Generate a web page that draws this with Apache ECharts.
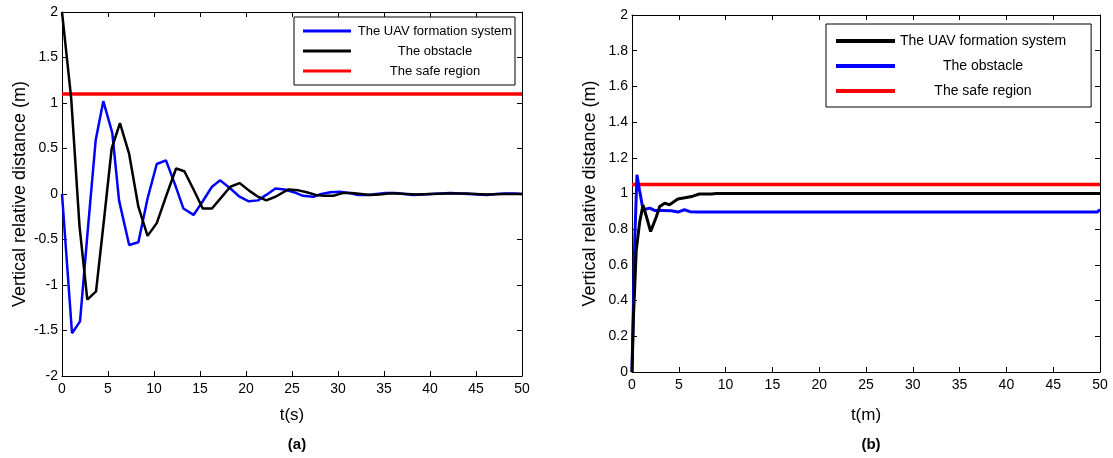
<!DOCTYPE html>
<html>
<head>
<meta charset="utf-8">
<script src="https://cdn.jsdelivr.net/npm/echarts@6/dist/echarts.min.js"></script>
<style>
  html, body { margin: 0; padding: 0; background: #fff; }
  #chart { width: 1113px; height: 458px; }
</style>
</head>
<body>
<div id="chart"></div>
<script>
// (a) time response, [t, value]
const uavA = [[0,0],[1.09,-1.53],[1.96,-1.40],[2.8,-0.4],[3.66,0.59],[4.49,1.02],[5.47,0.67],[6.2,-0.07],[7.3,-0.56],[8.3,-0.53],
  [9.3,-0.05],[10.3,0.33],[11.3,0.37],[12.3,0.1],[13.2,-0.16],[14.3,-0.23],[15.3,-0.08],[16.3,0.08],[17.2,0.15],[18.3,0.06],
  [19.3,-0.03],[20.3,-0.08],[21.3,-0.07],[22.2,-0.01],[23.2,0.06],[24.2,0.05],[25.2,0.02],[26.2,-0.02],[27.3,-0.03],[28.2,0],
  [29.2,0.02],[30.2,0.025],[31.2,0.01],[32.2,-0.01],[33.2,-0.01],[34.2,0],[35.2,0.01],[36.2,0.01],[37.2,0],[38.2,-0.01],
  [39.2,-0.005],[40.2,0],[41.2,0.005],[42.2,0.01],[43.2,0.005],[44.2,0],[45.2,-0.005],[46.2,-0.01],[47.2,0],[48.2,0.005],
  [49.2,0.005],[50,0]];
const obsA = [[0,2],[1.0,1.05],[1.9,-0.35],[2.75,-1.16],[3.7,-1.07],[4.6,-0.25],[5.4,0.5],[6.3,0.78],[7.3,0.44],[8.3,-0.14],
  [9.3,-0.46],[10.3,-0.32],[11.4,0],[12.4,0.28],[13.3,0.25],[14.3,0.05],[15.3,-0.16],[16.3,-0.16],[17.3,-0.04],[18.3,0.08],
  [19.3,0.12],[20.3,0.04],[21.3,-0.03],[22.2,-0.07],[23.2,-0.03],[24.6,0.05],[25.7,0.04],[26.6,0.02],[27.6,-0.01],[28.5,-0.02],
  [29.5,-0.02],[30.5,0.01],[31.5,0.01],[32.5,0],[33.5,-0.01],[34.5,-0.005],[35.5,0.005],[36.5,0.005],[37.5,0],[38.5,-0.005],
  [40,0],[42,0.005],[44,0.005],[46,-0.005],[48,0],[50,0]];
const safeA = [[0,1.1],[50,1.1]];

// (b) steady response, [t, value]
const uavB = [[0,0],[0.15,0.3],[0.45,0.68],[0.82,0.84],[1.18,0.935],[1.6,0.86],[1.99,0.787],[2.6,0.87],[2.96,0.927],[3.5,0.946],
  [4.0,0.937],[4.9,0.969],[5.8,0.978],[6.5,0.985],[7.2,0.997],[8.5,0.997],[9.0,1.0],[50,1.0]];
const obsB = [[0,0],[0.3,0.75],[0.53,1.105],[0.8,1.02],[1.18,0.909],[1.9,0.918],[2.4,0.905],[3.2,0.905],[4.2,0.903],
  [4.9,0.896],[5.6,0.909],[6.2,0.898],[7,0.896],[49.7,0.896],[50,0.91]];
const safeB = [[0,1.05],[50,1.05]];

const names = ['The UAV formation system', 'The obstacle', 'The safe region'];
const font = 'Liberation Sans, Arial, sans-serif';

const chart = echarts.init(document.getElementById('chart'));

function xAx(grid, name, gap) {
  return [{
    type: 'value', gridIndex: grid, min: 0, max: 50, interval: 5,
    name: name, nameLocation: 'middle', nameGap: gap,
    nameTextStyle: { color: '#000', fontSize: 17, fontFamily: font },
    axisLine: { onZero: false, lineStyle: { color: '#000', width: 1 } },
    axisTick: { inside: true, length: 5, lineStyle: { color: '#000' } },
    axisLabel: { color: '#000', fontSize: 14, fontFamily: font, margin: 6 },
    splitLine: { show: false }
  }, {
    type: 'value', gridIndex: grid, min: 0, max: 50, interval: 5, position: 'top',
    axisLine: { onZero: false, lineStyle: { color: '#000', width: 1 } },
    axisTick: { inside: true, length: 5, lineStyle: { color: '#000' } },
    axisLabel: { show: false }, splitLine: { show: false }
  }];
}

function yAx(grid, min, max, step) {
  return [{
    type: 'value', gridIndex: grid, min: min, max: max, interval: step,
    name: 'Vertical relative distance (m)', nameLocation: 'middle', nameGap: 33,
    nameTextStyle: { color: '#000', fontSize: 18, fontFamily: font },
    axisLine: { show: true, onZero: false, lineStyle: { color: '#000', width: 1 } },
    axisTick: { show: true, inside: true, length: 5, lineStyle: { color: '#000' } },
    axisLabel: { color: '#000', fontSize: 14, fontFamily: font, margin: 4 },
    splitLine: { show: false }
  }, {
    type: 'value', gridIndex: grid, min: min, max: max, interval: step, position: 'right',
    axisLine: { show: true, onZero: false, lineStyle: { color: '#000', width: 1 } },
    axisTick: { show: true, inside: true, length: 5, lineStyle: { color: '#000' } },
    axisLabel: { show: false }, splitLine: { show: false }
  }];
}

function line(name, data, color, width, xi, yi) {
  return {
    name: name, type: 'line', data: data, xAxisIndex: xi, yAxisIndex: yi,
    showSymbol: false, animation: false,
    lineStyle: { color: color, width: width }, itemStyle: { color: color }
  };
}

function legend(items, opts) {
  return Object.assign({
    orient: 'vertical', icon: 'rect',
    backgroundColor: '#fff', borderColor: '#000', borderWidth: 1, borderRadius: 0,
    selectedMode: false,
    data: items,
    formatter: n => '{c|' + n.trim() + '}'
  }, opts);
}

const option = {
  animation: false,
  textStyle: { fontFamily: font },
  title: [
    { text: '(a)', left: 292, top: 432, textAlign: 'center',
      textStyle: { fontSize: 15, fontWeight: 'bold', color: '#000', fontFamily: font } },
    { text: '(b)', left: 866, top: 432, textAlign: 'center',
      textStyle: { fontSize: 15, fontWeight: 'bold', color: '#000', fontFamily: font } }
  ],
  grid: [
    { left: 62, top: 12, width: 460, height: 364 },
    { left: 632, top: 15, width: 468, height: 357 }
  ],
  xAxis: [...xAx(0, 't(s)', 31), ...xAx(1, 't(m)', 35)],
  yAxis: [...yAx(0, -2, 2, 0.5), ...yAx(1, 0, 2, 0.2)],
  legend: [
    legend(names, {
      left: 294, top: 17, itemWidth: 48, itemHeight: 3, itemGap: 6,
      padding: [7, 1, 7, 9],
      textStyle: { color: '#000', fontSize: 13, lineHeight: 14,
        rich: { c: { width: 158, align: 'center', fontSize: 13, color: '#000', fontFamily: font } } }
    }),
    legend(names.map(n => n + ' '), {
      left: 826, top: 24, itemWidth: 59, itemHeight: 4, itemGap: 9,
      padding: [9, 25, 8, 10],
      textStyle: { color: '#000', fontSize: 14, lineHeight: 16,
        rich: { c: { width: 166, align: 'center', fontSize: 14, color: '#000', fontFamily: font } } }
    })
  ],
  series: [
    line(names[2], safeA, '#ff0000', 3.5, 0, 0),
    line(names[0], uavA, '#0000ff', 2.5, 0, 0),
    line(names[1], obsA, '#000000', 2.5, 0, 0),
    line(names[2] + ' ', safeB, '#ff0000', 3.5, 2, 2),
    line(names[1] + ' ', obsB, '#0000ff', 3, 2, 2),
    line(names[0] + ' ', uavB, '#000000', 3, 2, 2)
  ]
};

chart.setOption(option);
</script>
</body>
</html>
